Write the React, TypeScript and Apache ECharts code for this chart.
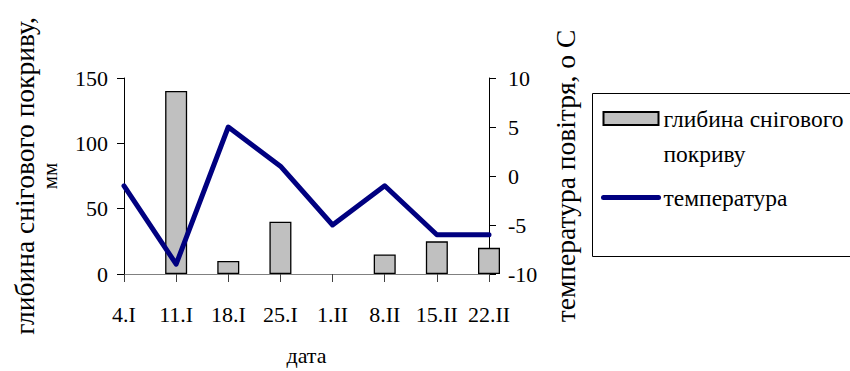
import React, { useEffect, useRef } from "react";
import * as echarts from "echarts";

const categories = ["4.I", "11.I", "18.I", "25.I", "1.II", "8.II", "15.II", "22.II"];
const snowDepth = [0, 140, 10, 40, 0, 15, 25, 20];
const temperature = [-1, -9, 5, 1, -5, -1, -6, -6];
const snowName = "глибина снігового покриву";
const tempName = "температура";
const leftTicks = { min: 0, max: 150, interval: 50 };
const rightTicks = { min: -10, max: 10, interval: 5 };

const FONT = "Liberation Serif";

export default function App() {
  const ref = useRef<HTMLDivElement>(null);
  useEffect(() => {
    if (!ref.current) return;
    const chart = echarts.init(ref.current, undefined, { renderer: "svg" });
    const txt = { fontFamily: FONT, fontSize: 22, color: "#000" };
    chart.setOption({
      animation: false,
      backgroundColor: "#fff",
      grid: { left: 124, right: 361, top: 78, bottom: 97, containLabel: false },
      xAxis: {
        type: "category",
        data: categories,
        boundaryGap: false,
        name: "дата",
        nameLocation: "middle",
        nameGap: 70,
        nameTextStyle: { ...txt },
        axisLine: { lineStyle: { color: "#808080", width: 1 } },
        axisTick: { show: true, inside: false, length: 8, lineStyle: { color: "#404040" } },
        axisLabel: { ...txt, margin: 29, interval: 0 },
        splitLine: { show: false },
      },
      yAxis: [
        {
          type: "value",
          ...leftTicks,
          position: "left",
          name: "{a|глибина снігового покриву,}\n{b|мм}",
          nameLocation: "middle",
          nameRotate: 90,
          nameGap: 61,
          nameTextStyle: {
            ...txt,
            rich: {
              a: { fontFamily: FONT, fontSize: 27.5, lineHeight: 26, color: "#000" },
              b: { fontFamily: FONT, fontSize: 21, lineHeight: 26, color: "#000" },
            },
          },
          axisLine: { show: true, lineStyle: { color: "#000", width: 1 } },
          axisTick: { show: true, inside: false, length: 7, lineStyle: { color: "#000" } },
          axisLabel: { ...txt, margin: 16 },
          splitLine: { show: false },
        },
        {
          type: "value",
          ...rightTicks,
          position: "right",
          name: "температура повітря, о С",
          nameLocation: "middle",
          nameRotate: 90,
          nameGap: 62,
          nameTextStyle: { ...txt, fontSize: 27.5 },
          axisLine: { show: true, lineStyle: { color: "#000", width: 1 } },
          axisTick: { show: true, inside: false, length: 7, lineStyle: { color: "#000" } },
          axisLabel: { ...txt, margin: 19 },
          splitLine: { show: false },
        },
      ],
      legend: {
        orient: "vertical",
        left: 601,
        top: 66,
        padding: 0,
        itemWidth: 55,
        itemHeight: 13,
        itemGap: 9,
        textStyle: { ...txt, fontSize: 23.5, lineHeight: 35 },
        formatter: (name: string) => (name === snowName ? "\nглибина снігового\nпокриву" : name),
        data: [
          { name: snowName, icon: "rect" },
          {
            name: tempName,
            itemStyle: { color: "rgba(0,0,0,0)", borderWidth: 0, opacity: 0 },
            lineStyle: { color: "#000080", width: 5, cap: "round" },
          },
        ],
      },
      graphic: [
        {
          type: "rect",
          shape: { x: 592.5, y: 93.5, width: 262, height: 163 },
          style: { fill: "none", stroke: "#000", lineWidth: 1 },
          silent: true,
        },
      ],
      series: [
        {
          name: snowName,
          type: "bar",
          data: snowDepth.map((v) => (v === 0 ? { value: v, itemStyle: { borderWidth: 0 } } : v)),
          yAxisIndex: 0,
          barWidth: 22,
          itemStyle: { color: "#c0c0c0", borderColor: "#000", borderWidth: 1.3 },
          clip: true,
        },
        {
          name: tempName,
          type: "line",
          data: temperature,
          yAxisIndex: 1,
          symbol: "none",
          lineStyle: { color: "#000080", width: 5, cap: "round", join: "round" },
          itemStyle: { color: "#000080" },
        },
      ],
    });
    return () => chart.dispose();
  }, []);
  return (
    <div
      ref={ref}
      style={{ position: "fixed", left: 0, top: 0, width: 850, height: 371, background: "#fff" }}
    />
  );
}
